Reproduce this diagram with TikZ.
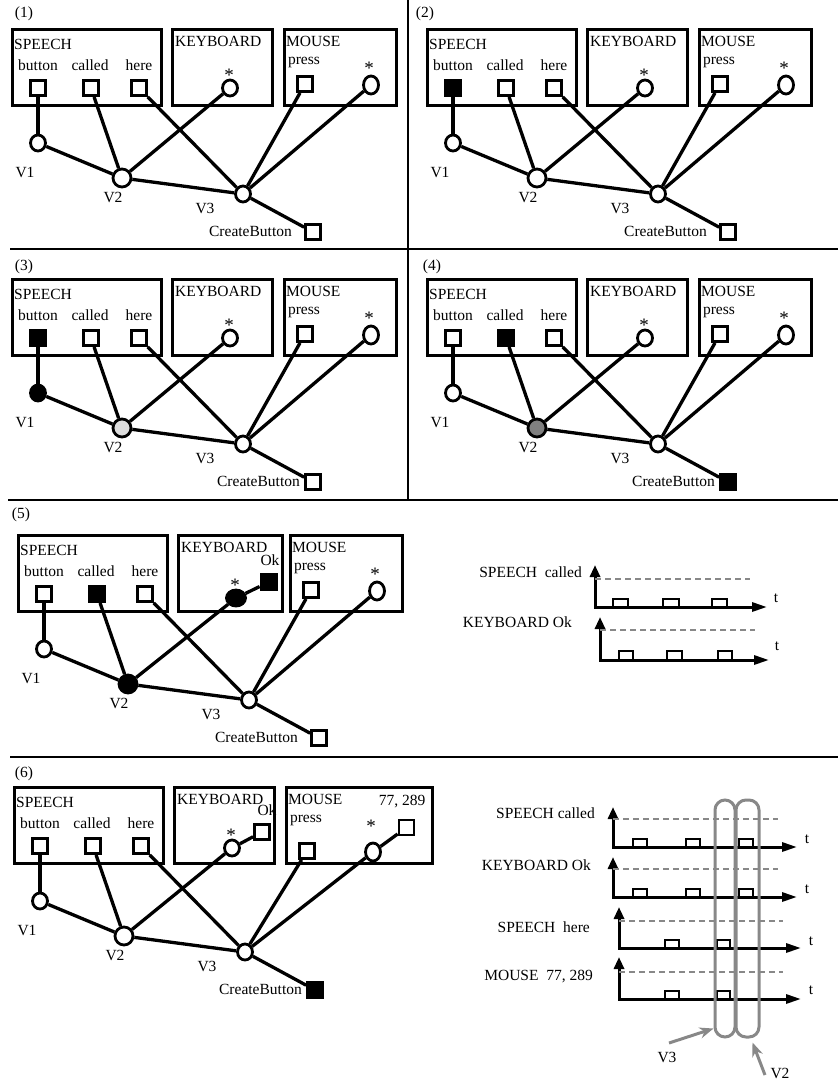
\documentclass[tikz,border=0pt]{standalone}
\usepackage{fontspec}
\setmainfont{Liberation Serif}
\usetikzlibrary{arrows.meta,shapes.geometric}
\definecolor{lgray}{HTML}{DDDDDD}
\definecolor{mgray}{HTML}{808080}
\definecolor{cgray}{HTML}{888888}
\tikzset{
 box/.style={draw, line width=3pt, rectangle, inner sep=0pt, outer sep=0pt},
 sq/.style={draw, line width=2.8pt, rectangle, minimum size=15pt, inner sep=0pt, fill=white},
 el/.style={draw, line width=2.8pt, ellipse, minimum width=15pt, minimum height=16pt, inner sep=0pt, fill=white},
 txt/.style={inner sep=0pt, font=\fontsize{15.5}{18}\selectfont},
 star/.style={inner sep=0pt, font=\fontsize{19}{20}\selectfont},
 edge/.style={line width=3.3pt},
 sep/.style={line width=2.8pt},
 btnS/.style={}, calS/.style={}, v1S/.style={}, v2S/.style={}, cbS/.style={}, kbS/.style={},
 axis/.style={line width=3pt, {Triangle[length=12pt,width=10pt]}-{Triangle[length=15pt,width=9pt]}},
 dashline/.style={draw=cgray, line width=2.6pt, dash pattern=on 5.5pt off 4.5pt},
 pulse/.style={line width=2.6pt},
 capsule/.style={draw=cgray, line width=3pt, rectangle, rounded corners=10pt, inner sep=0pt},
 garrow/.style={draw=cgray, line width=3pt, -{Stealth[length=14pt,width=11pt]}},
}
\def\kbW{100pt}\def\msW{112pt}\def\pressY{84}\def\kbY{88}\def\cbx{292}
\newcommand\basepanel{%
 \node[box, minimum width=149pt, minimum height=76pt] (spbox) at (86.5,67.5) {};
 \node[box, minimum width=\kbW, minimum height=76pt, anchor=west] (kbbox) at (172,67.5) {};
 \node[box, minimum width=\msW, minimum height=76pt, anchor=west] (msbox) at (284,67.5) {};
 \node[txt, anchor=west] (spt) at (14,44) {SPEECH};
 \node[txt, anchor=west] (kbt) at (175,41) {KEYBOARD};
 \node[txt, anchor=west] (mst) at (286,41) {MOUSE};
 \node[txt] (bt) at (38,65) {button};
 \node[txt] (ct) at (90,65) {called};
 \node[txt] (ht) at (139,65) {here};
 \node[sq, btnS] (b) at (38,88) {};
 \node[sq, calS] (c) at (91,88) {};
 \node[sq] (h) at (139,88) {};
 \node[star] (kbst) at (229,\kbY-13) {*};
 \node[el, kbS] (kb) at (230,\kbY) {};
 \node[txt] (pt) at (304,62) {press};
 \node[sq] (p) at (305,\pressY) {};
 \node[star] (msst) at (369,68) {*};
 \node[el, minimum height=18pt] (ms) at (371,\pressY+1) {};
 \node[el, v1S] (v1) at (38,143) {};
 \node[el, v2S, minimum width=18pt, minimum height=18pt] (v2) at (122,178) {};
 \node[el] (v3) at (243,194) {};
 \node[sq, cbS] (cb) at (313,232) {};
 \node[txt] (v1t) at (25,172) {V1};
 \node[txt] (v2t) at (113,197) {V2};
 \node[txt] (v3t) at (205,208) {V3};
 \node[txt, anchor=east] (cbt) at (\cbx,231) {CreateButton};
 \draw[edge] (b) -- (v1);
 \draw[edge] (c) -- (v2);
 \draw[edge] (h) -- (v3);
 \draw[edge] (kb) -- (v2);
 \draw[edge] (p) -- (v3);
 \draw[edge] (ms) -- (v3);
 \draw[edge] (v1) -- (v2);
 \draw[edge] (v2) -- (v3);
 \draw[edge] (v3) -- (cb);
}
\begin{document}
\begin{tikzpicture}[x=1pt,y=-1pt]
\useasboundingbox (0,0) rectangle (838,1084);
% separators
\coordinate (s0) at (408,0);
\coordinate (s1) at (408,500);
\draw[sep] (s0) -- (s1);
\coordinate (h1a) at (10,249); \coordinate (h1b) at (838,249);
\coordinate (h2a) at (8,500); \coordinate (h2b) at (838,500);
\coordinate (h3a) at (10,757); \coordinate (h3b) at (838,757);
\draw[sep] (h1a) -- (h1b);
\draw[sep] (h2a) -- (h2b);
\draw[sep] (h3a) -- (h3b);
% panel labels
\node[txt] (l1) at (24,14) {(1)};
\node[txt] (l2) at (425,14) {(2)};
\node[txt] (l3) at (24,267) {(3)};
\node[txt] (l4) at (432,267) {(4)};
\node[txt] (l5) at (21,515) {(5)};
\node[txt] (l6) at (24,774) {(6)};
% panel 1
\begin{scope}[name prefix=p1-]
\basepanel
\end{scope}
% panel 2
\begin{scope}[shift={(415,0)}, name prefix=p2-, btnS/.style={fill=black}]
\basepanel
\end{scope}
% panel 3
\begin{scope}[shift={(0,250)}, name prefix=p3-, btnS/.style={fill=black}, v1S/.style={fill=black}, v2S/.style={fill=lgray}]
\def\cbx{300}
\basepanel
\end{scope}
% panel 4
\begin{scope}[shift={(415,250)}, name prefix=p4-, calS/.style={fill=black}, v2S/.style={fill=mgray}, cbS/.style={fill=black}]
\def\cbx{300}
\basepanel
\end{scope}
% panel 5
\begin{scope}[shift={(6,506)}, name prefix=p5-, calS/.style={fill=black}, v2S/.style={fill=black}, kbS/.style={fill=black, minimum width=19pt}]
\def\kbW{104pt}\def\kbY{92}
\basepanel
\node[txt] (okt) at (264,54) {Ok};
\node[sq, fill=black, minimum size=16pt] (ok) at (263,76) {};
\draw[edge] (kb) -- (ok);
\end{scope}
% panel 6
\begin{scope}[shift={(2,758)}, name prefix=p6-, cbS/.style={fill=black}]
\def\msW{146pt}\def\pressY{93}\def\kbY{90}\def\cbx{300}
\basepanel
\node[txt] (okt) at (265,52) {Ok};
\node[sq] (ok) at (260,74) {};
\draw[edge] (kb) -- (ok);
\node[txt] (xyt) at (400,44) {77, 289};
\node[sq] (xy) at (404.5,69.5) {};
\draw[edge] (ms) -- (xy);
\end{scope}
% panel 5 timing chart
\node[txt, anchor=east] (t5a) at (582,572) {SPEECH\ \ called};
\node[txt, anchor=east] (t5b) at (572,622) {KEYBOARD Ok};
\draw[axis] (595,565) -- (595,607) -- (767,607);
\draw[dashline] (595,579) -- (750,579);
\draw[pulse] (613,607) rectangle (628,599);
\draw[pulse] (663,607) rectangle (679,599);
\draw[pulse] (712,607) rectangle (727,599);
\node[txt] (t5t1) at (776,598) {t};
\draw[axis] (600,617) -- (600,660) -- (769,660);
\draw[dashline] (600,630) -- (755,630);
\draw[pulse] (619,660) rectangle (633,651);
\draw[pulse] (667,660) rectangle (682,651);
\draw[pulse] (718,660) rectangle (732,651);
\node[txt] (t5t2) at (777,646) {t};
% panel 6 timing chart
\node[txt, anchor=east] (t6a) at (595,813) {SPEECH called};
\node[txt, anchor=east] (t6b) at (591,865) {KEYBOARD Ok};
\node[txt, anchor=east] (t6c) at (590,927) {SPEECH\ \ here};
\node[txt, anchor=east] (t6d) at (593,977) {MOUSE\ \ 77, 289};
\draw[axis] (613,807) -- (613,847) -- (797,847);
\draw[dashline] (613,819) -- (778,819);
\draw[pulse] (633,847) rectangle (647,839);
\draw[pulse] (686,847) rectangle (700,839);
\draw[pulse] (739,847) rectangle (753,839);
\node[txt] (t6t1) at (807,839) {t};
\draw[axis] (613,857) -- (613,897) -- (797,897);
\draw[dashline] (613,869) -- (778,869);
\draw[pulse] (633,897) rectangle (647,889);
\draw[pulse] (686,897) rectangle (700,889);
\draw[pulse] (739,897) rectangle (753,889);
\node[txt] (t6t2) at (807,889) {t};
\draw[axis] (619,907) -- (619,948) -- (801,948);
\draw[dashline] (619,921) -- (783,921);
\draw[pulse] (665,948) rectangle (679,940);
\draw[pulse] (717,948) rectangle (730,940);
\node[txt] (t6t3) at (811,941) {t};
\draw[axis] (619,957) -- (619,999) -- (801,999);
\draw[dashline] (619,972) -- (783,972);
\draw[pulse] (665,999) rectangle (679,991);
\draw[pulse] (717,999) rectangle (730,991);
\node[txt] (t6t4) at (811,990) {t};
% capsules
\node[capsule, minimum width=20pt, minimum height=237pt] (c3) at (725,918.5) {};
\node[capsule, minimum width=23pt, minimum height=237pt] (c2) at (747.5,918.5) {};
\node[txt] (v3lab) at (667,1057) {V3};
\node[txt] (v2lab) at (780,1073) {V2};
\coordinate (a3) at (669,1043);
\coordinate (a2) at (765,1075);
\draw[garrow] (a3) -- ([yshift=10pt]c3.south west);
\draw[garrow] (a2) -- ([xshift=5pt,yshift=-4pt]c2.south);
\end{tikzpicture}
\end{document}
